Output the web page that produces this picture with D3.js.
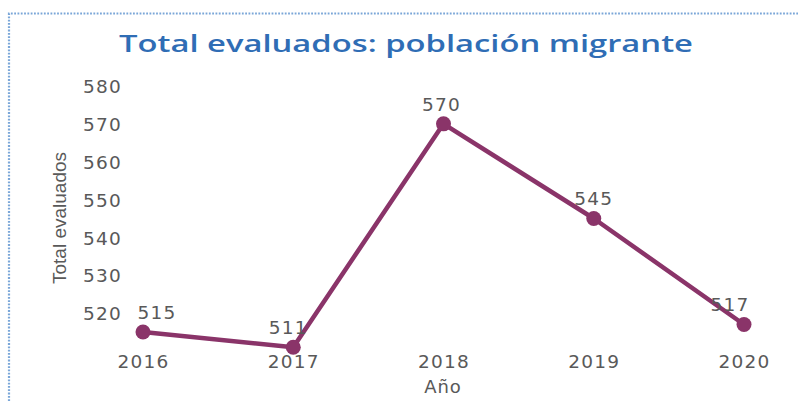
<!DOCTYPE html>
<html><head><meta charset="utf-8">
<script src="https://cdn.jsdelivr.net/npm/d3@7"></script>
<style>body{margin:0;background:#fff}svg{display:block}</style>
</head><body>
<script>
const years = [2016, 2017, 2018, 2019, 2020];
const values = [515, 511, 570, 545, 517];
const yTicks = [520, 530, 540, 550, 560, 570, 580];
const title = "Total evaluados: población migrante";
const yTitle = "Total evaluados";
const xTitle = "Año";

const W = 798, H = 401;
const svg = d3.select("body").append("svg").attr("width", W).attr("height", H);

// dotted frame
svg.append("path")
  .attr("d", `M9,${H} L9,13.5 L${W},13.5`)
  .attr("fill", "none").attr("stroke", "#7aa6d8").attr("stroke-width", 2.2)
  .attr("stroke-dasharray", "1.8,1.5");

const x = d3.scalePoint().domain(years).range([143, 744]);
const y = d3.scaleLinear().domain([510, 580]).range([351, 86]);

const tickFont = "'DejaVu Sans', Verdana, sans-serif";
const grey = "#595959";
// label placement nudges (layout only, as in the original chart)
const labelNudge = [14, -5, -2, 0, -14];

// title
const t = svg.append("text").attr("x", 406).attr("y", 52).attr("text-anchor", "middle")
  .attr("font-family", "'Open Sans', sans-serif").attr("font-weight", 600)
  .attr("font-size", 24).attr("fill", "#2f6db5").text(title);
const tl = t.node().getComputedTextLength();
if (tl) t.attr("textLength", 574).attr("lengthAdjust", "spacingAndGlyphs");

// y axis (no line)
const yAxis = svg.append("g").attr("transform", "translate(122,0)")
  .call(d3.axisLeft(y).tickValues(yTicks).tickSize(0).tickPadding(0));
yAxis.select(".domain").remove();
yAxis.selectAll("text").attr("font-family", tickFont).attr("font-size", 18.5)
  .attr("letter-spacing", 1.2).attr("fill", grey).attr("dy", "0.36em");

// x axis (no line)
const xAxis = svg.append("g").attr("transform", "translate(0,355)")
  .call(d3.axisBottom(x).tickSize(0).tickPadding(0));
xAxis.select(".domain").remove();
xAxis.selectAll("text").attr("font-family", tickFont).attr("font-size", 18.5)
  .attr("letter-spacing", 1.2).attr("fill", grey).attr("dy", "0.71em");

// axis titles
svg.append("text").attr("transform", "translate(66,218) rotate(-90)")
  .attr("text-anchor", "middle").attr("font-family", "'Liberation Sans Narrow', 'Liberation Sans', sans-serif")
  .attr("font-size", 19).attr("fill", grey).text(yTitle);
svg.append("text").attr("x", 443).attr("y", 393).attr("text-anchor", "middle")
  .attr("font-family", tickFont).attr("font-size", 18).attr("letter-spacing", 1)
  .attr("fill", grey).text(xTitle);

const data = years.map((yr, i) => ({yr, v: values[i], i}));
const lineColor = "#8a3469";

svg.append("path").datum(data)
  .attr("d", d3.line().x(d => x(d.yr)).y(d => y(d.v)))
  .attr("fill", "none").attr("stroke", lineColor).attr("stroke-width", 4.5)
  .attr("stroke-linejoin", "round");

svg.selectAll("circle.pt").data(data).join("circle").attr("class", "pt")
  .attr("cx", d => x(d.yr)).attr("cy", d => y(d.v)).attr("r", 7.5).attr("fill", lineColor);

svg.selectAll("text.lbl").data(data).join("text").attr("class", "lbl")
  .attr("x", d => x(d.yr) + labelNudge[d.i]).attr("y", d => y(d.v) - 20).attr("dy", "0.36em")
  .attr("text-anchor", "middle").attr("font-family", tickFont).attr("font-size", 18.5)
  .attr("letter-spacing", 1.2).attr("fill", grey).text(d => d.v);
</script>
</body></html>
